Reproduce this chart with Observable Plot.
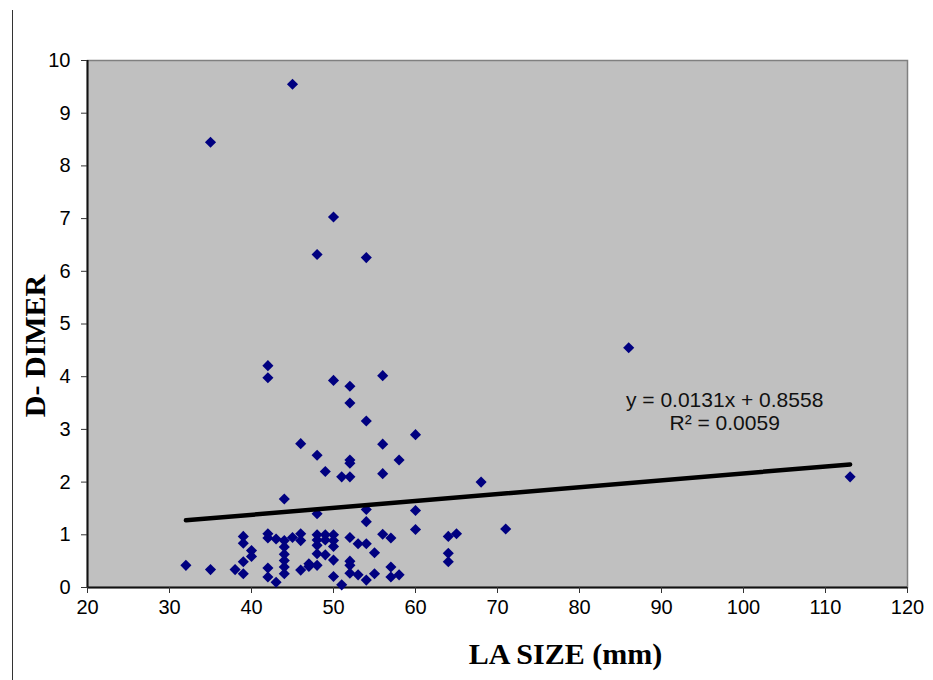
<!DOCTYPE html>
<html>
<head>
<meta charset="utf-8">
<script src="https://cdn.jsdelivr.net/npm/d3@7"></script>
<script src="https://cdn.jsdelivr.net/npm/@observablehq/plot@0.6"></script>
<style>
  html, body { margin: 0; padding: 0; background: #fff; }
  #wrap { position: relative; width: 933px; height: 680px; }
  #edge { position: absolute; left: 12px; top: 10px; width: 1px; height: 670px; background: #333; }
  #ytitle {
    position: absolute; left: 35px; top: 346px;
    transform: translate(-50%, -50%) rotate(-90deg);
    font-family: 'Liberation Serif', 'Times New Roman', serif;
    font-weight: bold; font-size: 30px; color: #000; white-space: nowrap;
    z-index: 2;
  }
</style>
</head>
<body>
<div id="wrap"><div id="edge"></div><div id="ytitle"></div></div>
<script>
// LA size (mm)
const laSize = [
  32, 35, 35, 38, 39, 39, 39, 39, 40, 40,
  42, 42, 42, 42, 42, 42, 43, 43, 44, 44,
  44, 44, 44, 44, 44, 45, 45, 46, 46, 46,
  46, 47, 47, 48, 48, 48, 48, 48, 48, 48,
  48, 49, 49, 49, 49, 50, 50, 50, 50, 50,
  50, 50, 51, 51, 52, 52, 52, 52, 52, 52,
  52, 52, 52, 53, 53, 54, 54, 54, 54, 54,
  54, 55, 55, 56, 56, 56, 56, 57, 57, 57,
  58, 58, 60, 60, 60, 64, 64, 64, 65, 68,
  71, 86, 113
];
// D-dimer
const dDimer = [
  0.42, 0.34, 8.45, 0.34, 0.97, 0.84, 0.49, 0.26, 0.70, 0.59,
  4.21, 3.98, 1.02, 0.94, 0.37, 0.20, 0.92, 0.10, 1.68, 0.89,
  0.77, 0.63, 0.51, 0.39, 0.26, 9.55, 0.95, 2.73, 1.02, 0.89,
  0.33, 0.45, 0.40, 6.32, 2.51, 1.40, 1.00, 0.90, 0.80, 0.64,
  0.42, 2.20, 1.00, 0.90, 0.62, 7.03, 3.93, 1.00, 0.89, 0.78,
  0.52, 0.21, 2.10, 0.05, 3.82, 3.50, 2.42, 2.36, 2.10, 0.95,
  0.50, 0.42, 0.27, 0.83, 0.24, 6.26, 3.16, 1.48, 1.25, 0.83,
  0.14, 0.66, 0.26, 4.02, 2.72, 2.16, 1.01, 0.94, 0.39, 0.20,
  2.42, 0.24, 2.90, 1.46, 1.10, 0.97, 0.65, 0.49, 1.02, 2.00,
  1.11, 4.55, 2.10
];
// linear trendline endpoints (as drawn)
const trendX = [32, 113];
const trendY = [1.275, 2.336];
// trendline label
const eqLines = ["y = 0.0131x + 0.8558", "R\u00b2 = 0.0059"];
const eqX = [97.7, 97.7];
const eqY = [3.55, 3.11];
// ticks
const xTicks = [20, 30, 40, 50, 60, 70, 80, 90, 100, 110, 120];
const yTicks = [0, 1, 2, 3, 4, 5, 6, 7, 8, 9, 10];
const xTitle = "LA SIZE (mm)";
const yTitle = "D- DIMER";

const points = laSize.map((x, i) => ({x, y: dDimer[i]}));
const trend = trendX.map((x, i) => ({x, y: trendY[i]}));
const eq = eqLines.map((t, i) => ({t, x: eqX[i], y: eqY[i]}));

const sans = "'Liberation Sans', Arial, sans-serif";
const serif = "'Liberation Serif', 'Times New Roman', serif";

const chart = Plot.plot({
  width: 933,
  height: 680,
  marginLeft: 87,
  marginRight: 26,
  marginTop: 60,
  marginBottom: 93,
  style: {fontFamily: sans, fontSize: "20px", color: "#000", background: "transparent"},
  x: {domain: [20, 120]},
  y: {domain: [0, 10]},
  marks: [
    Plot.frame({fill: "#c0c0c0", stroke: "#808080", strokeWidth: 1.5}),
    Plot.ruleX([20], {stroke: "#111", strokeWidth: 2}),
    Plot.ruleY([0], {stroke: "#111", strokeWidth: 2}),
    Plot.axisX({ticks: xTicks, tickSize: 6, tickPadding: 6, label: null, stroke: "#333", fontSize: 20}),
    Plot.axisY({ticks: yTicks, tickSize: 6, tickPadding: 11, label: null, stroke: "#333", fontSize: 20}),
    Plot.dot(points, {x: "x", y: "y", symbol: "diamond2", r: 5, fill: "#000080", stroke: "none"}),
    Plot.line(trend, {x: "x", y: "y", stroke: "#000", strokeWidth: 4.5, strokeLinecap: "round"}),
    Plot.text(eq, {x: "x", y: "y", text: "t", fontSize: 21, fill: "#111", textAnchor: "middle"}),
    Plot.text([xTitle], {frameAnchor: "bottom", dx: 68, dy: 76, fontSize: 30, fontWeight: "bold", fontFamily: serif, fill: "#000"})
  ]
});
chart.style.position = "absolute";
chart.style.left = "0px";
chart.style.top = "0px";
document.getElementById("wrap").appendChild(chart);
document.getElementById("ytitle").textContent = yTitle;
</script>
</body>
</html>
